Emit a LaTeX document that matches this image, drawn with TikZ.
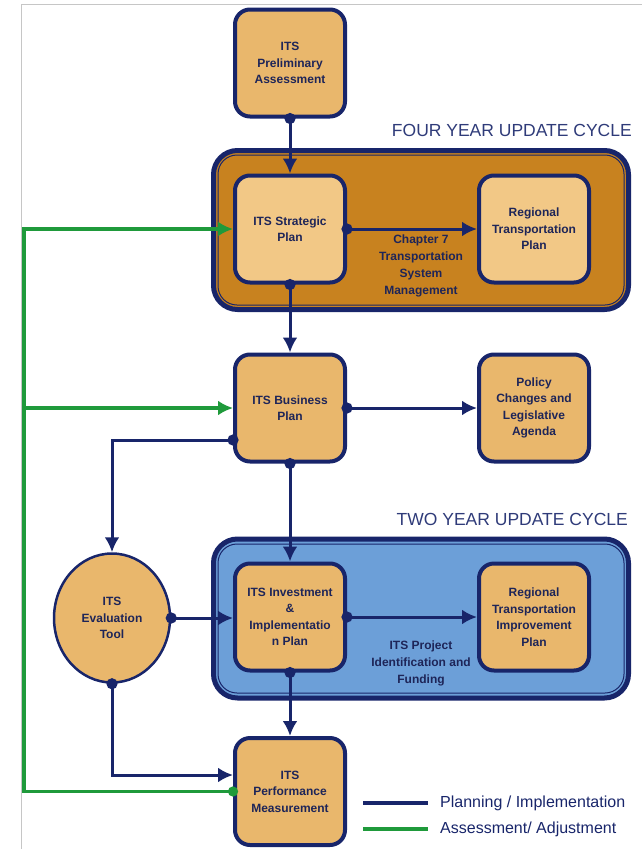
\documentclass[tikz,border=0pt]{standalone}
\usepackage{fontspec}
\setmainfont{Liberation Sans}
\usetikzlibrary{arrows.meta,shapes.geometric}

\definecolor{itsnavy}{HTML}{18256A}
\definecolor{itstext}{HTML}{1E2558}
\definecolor{itstan}{HTML}{E9B76C}
\definecolor{itslight}{HTML}{F2C886}
\definecolor{itsorange}{HTML}{C8821F}
\definecolor{itsblue}{HTML}{6C9FD8}
\definecolor{itsgreen}{HTML}{1F9A3B}

\tikzset{
  planbox/.style={draw=itsnavy, line width=4pt, fill=itstan, rounded corners=15pt,
    minimum width=110pt, minimum height=107pt, align=center, text=itstext,
    inner sep=2pt, font=\bfseries\fontsize{12}{16.5}\selectfont},
  evalbox/.style={ellipse, draw=itsnavy, line width=2.5pt, fill=itstan,
    minimum width=116pt, minimum height=129pt, align=center, text=itstext,
    inner sep=0pt, font=\bfseries\fontsize{12}{16.5}\selectfont},
  cyclebox/.style={draw=itsnavy, line width=5pt, rounded corners=24pt,
    minimum width=415pt, minimum height=159pt},
  cycleline/.style={draw=itsnavy, line width=1pt, rounded corners=19pt},
  cyclelabel/.style={anchor=base east, inner sep=0pt, text=itsnavy!90,
    font=\fontsize{17.5}{20}\selectfont},
  midlabel/.style={align=center, text=itstext, font=\bfseries\fontsize{12}{17}\selectfont},
  legendtext/.style={anchor=west, inner sep=3pt, text=itsnavy, font=\fontsize{16}{18}\selectfont},
  plan/.style={draw=itsnavy, line width=3pt, shorten <=-5.5pt,
    {Circle[length=11pt]}-{Latex[length=15pt,width=15pt]}},
  assess/.style={draw=itsgreen, line width=3.5pt, -{Latex[length=15pt,width=15pt]}},
}

\begin{document}
\begin{tikzpicture}[x=1pt,y=-1pt]
  \useasboundingbox (0,0) rectangle (642,849);
  \draw[gray!45, line width=0.8pt] (642,4.5) -- (21.5,4.5) -- (21.5,849);

  % four year cycle
  \node[cyclebox, fill=itsorange] (fourcycle) at (421,230) {};
  \draw[cycleline] (218,155) rectangle (624,305);
  \node[cyclelabel] (fourlabel) at (632,136) {FOUR YEAR UPDATE CYCLE};

  % two year cycle
  \node[cyclebox, fill=itsblue] (twocycle) at (421,618.5) {};
  \draw[cycleline] (218,544) rectangle (624,693);
  \node[cyclelabel] (twolabel) at (628,525) {TWO YEAR UPDATE CYCLE};

  \node[planbox] (prelim) at (290,63) {ITS\\Preliminary\\Assessment};
  \node[planbox, fill=itslight] (strategic) at (290,229) {ITS Strategic\\Plan};
  \node[planbox, fill=itslight] (rtp) at (534,229) {Regional\\Transportation\\Plan};
  \node[midlabel] (chapter) at (421,266) {Chapter 7\\Transportation\\System\\Management};
  \node[planbox] (business) at (290,408) {ITS Business\\Plan};
  \node[planbox] (policy) at (534,408) {Policy\\Changes and\\Legislative\\Agenda};
  \node[planbox] (invest) at (290,617) {ITS Investment\\\&\\Implementatio\\n Plan};
  \node[planbox] (rtip) at (534,617) {Regional\\Transportation\\Improvement\\Plan};
  \node[midlabel] (project) at (421,663) {ITS Project\\Identification and\\Funding};
  \node[evalbox] (evaltool) at (112,618) {ITS\\Evaluation\\Tool};
  \node[planbox] (perf) at (290,791.5) {ITS\\Performance\\Measurement};

  % planning / implementation
  \draw[plan] (prelim) -- (strategic);
  \draw[plan] (strategic) -- (rtp);
  \draw[plan] (strategic) -- (business);
  \draw[plan] (business) -- (policy);
  \draw[plan] (business) -- (invest);
  \draw[plan] (invest) -- (rtip);
  \draw[plan] (invest) -- (perf);
  \draw[plan] ([yshift=-32pt]business.west) -| (evaltool.north);
  \draw[plan] (evaltool.east) -- (evaltool.east -| invest.west);
  \draw[plan] (evaltool.south) |- ([yshift=16.5pt]perf.west);

  % assessment / adjustment
  \coordinate (rail) at (24,0);
  \draw[assess, shorten <=-5pt, {Circle[length=10pt]}-{Latex[length=15pt,width=15pt]}]
    (perf.west) -- (perf.west -| rail) |- (strategic.west);
  \draw[assess] (business.west -| rail) -- (business.west);

  % legend
  \node[legendtext] (plantext) at (437,803) {Planning / Implementation};
  \node[legendtext] (assesstext) at (437,829) {Assessment/ Adjustment};
  \coordinate (planstart) at (363,803);
  \coordinate (assessstart) at (363,829);
  \draw[itsnavy, line width=3.5pt, shorten >=9pt] (planstart) -- (planstart -| plantext.west);
  \draw[itsgreen, line width=3.5pt, shorten >=9pt] (assessstart) -- (assessstart -| assesstext.west);
\end{tikzpicture}
\end{document}
